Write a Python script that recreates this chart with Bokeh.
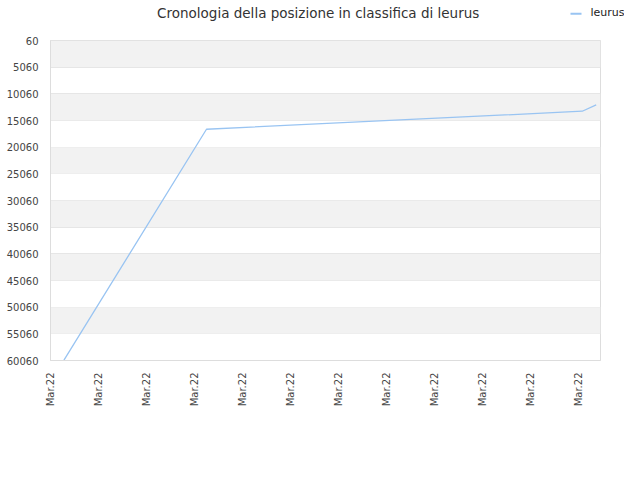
from bokeh.plotting import figure
from bokeh.models import Range1d, FixedTicker, BoxAnnotation
from bokeh.layouts import column
from bokeh.core.properties import value
from bokeh.embed import file_html
from bokeh.resources import INLINE
import math

# ---- data ----
title_text = "Cronologia della posizione in classifica di leurus"
series_name = "leurus"
x_tick_labels = ["Mar.22"] * 12
y_ticks = [60, 5060, 10060, 15060, 20060, 25060, 30060, 35060, 40060, 45060, 50060, 55060, 60060]
x_pos = [0.28, 3.25, 11.08, 11.37]
rank = [60000, 16700, 13320, 12120]

FONT = "DejaVu Sans"
X_MAX = 11.46
LINE_COLOR = "#99c4f2"
W = 624
HEAD_H = 32

# ---- header: title and legend (pixel-unit figure) ----
head = figure(width=W, height=HEAD_H, output_backend="svg", toolbar_location=None,
              x_range=Range1d(0, W), y_range=Range1d(HEAD_H, 0),
              min_border=0, min_border_left=0, min_border_right=0, min_border_top=0, min_border_bottom=0,
              x_axis_location=None, y_axis_location=None)
if "frame_align" in head.properties():
    head.frame_align = False
head.outline_line_color = None
head.grid.visible = False
head.text(x=[156.6], y=[12.0], text=[title_text], text_font=value(FONT), text_font_size="13.5px",
          text_color="#333333", text_baseline="middle", text_align="left")
head.line(x=[570, 581], y=[13.3, 13.3], line_color=LINE_COLOR, line_width=2)
head.text(x=[590], y=[12.2], text=[series_name], text_font=value(FONT), text_font_size="11px",
          text_color="#222222", text_baseline="middle", text_align="left")

# ---- main chart ----
p = figure(width=W, height=464 - HEAD_H, output_backend="svg", toolbar_location=None,
           x_range=Range1d(0, X_MAX), y_range=Range1d(y_ticks[-1], y_ticks[0]),
           min_border_left=50, min_border_right=24, min_border_top=8, min_border_bottom=104,
           background_fill_color="white", border_fill_color="white")
if "frame_align" in p.properties():
    p.frame_align = False

for i in range(len(y_ticks) - 1):
    if i % 2 == 0:
        p.add_layout(BoxAnnotation(bottom=y_ticks[i + 1], top=y_ticks[i], fill_color="#f2f2f2",
                                   fill_alpha=1.0, line_alpha=0, level="underlay"))

p.line(x_pos, rank, line_color=LINE_COLOR, line_width=1.3)

p.outline_line_color = "#dddddd"
p.xgrid.visible = False
p.ygrid.grid_line_color = "#e2e2e2"
p.ygrid.ticker = FixedTicker(ticks=y_ticks)

ya = p.yaxis[0]
ya.ticker = FixedTicker(ticks=y_ticks)
ya.major_label_overrides = {t: str(t) for t in y_ticks}
ya.major_tick_line_color = None
ya.major_tick_out = 0
ya.major_tick_in = 0
ya.minor_tick_line_color = None
ya.minor_tick_out = 0
ya.axis_line_color = "#dddddd"
ya.major_label_text_font = FONT
ya.major_label_text_font_size = "10px"
ya.major_label_text_color = "#444444"
ya.major_label_standoff = 12

xa = p.xaxis[0]
xa.ticker = FixedTicker(ticks=list(range(len(x_tick_labels))))
xa.major_label_overrides = {i: s for i, s in enumerate(x_tick_labels)}
xa.major_label_orientation = math.pi / 2
xa.major_tick_line_color = None
xa.major_tick_out = 0
xa.major_tick_in = 0
xa.minor_tick_line_color = None
xa.minor_tick_out = 0
xa.axis_line_color = "#dddddd"
xa.major_label_text_font = FONT
xa.major_label_text_font_size = "10px"
xa.major_label_text_color = "#444444"
xa.major_label_standoff = 12

layout = column(head, p, spacing=0)
open("out.html", "w").write(file_html(layout, INLINE))
